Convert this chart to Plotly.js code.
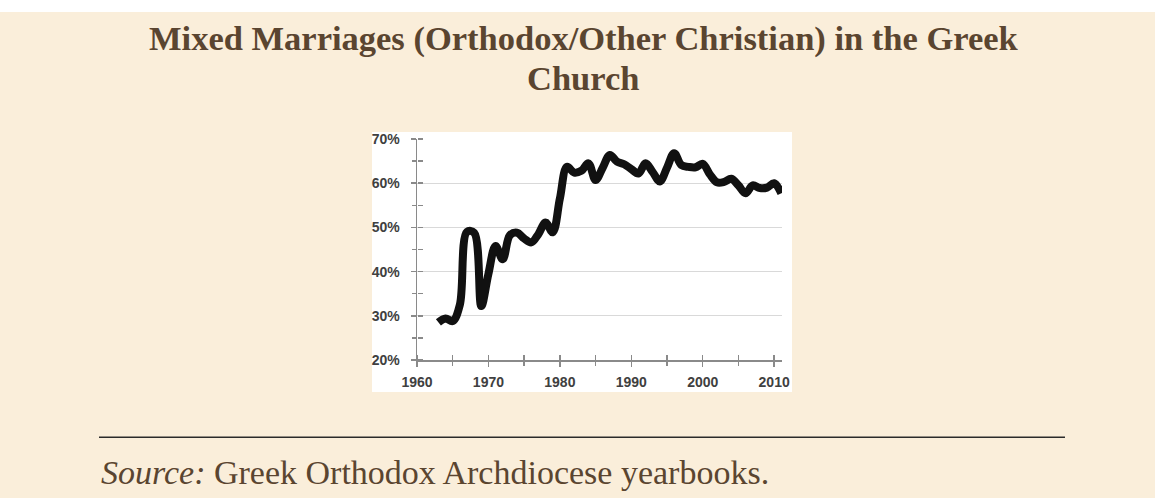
<!DOCTYPE html>
<html>
<head>
<meta charset="utf-8">
<script src="https://cdn.plot.ly/plotly-3.0.1.min.js"></script>
<style>
  html, body { margin: 0; padding: 0; background: #FAEEDA; }
  #chart { width: 1155px; height: 498px; }
</style>
</head>
<body>
<div id="chart"></div>
<script>
var years = [1963, 1964, 1965, 1966, 1967, 1968, 1969, 1970, 1971, 1972,
             1973, 1974, 1975, 1976, 1977, 1978, 1979, 1980, 1981, 1982,
             1983, 1984, 1985, 1986, 1987, 1988, 1989, 1990, 1991, 1992,
             1993, 1994, 1995, 1996, 1997, 1998, 1999, 2000, 2001, 2002,
             2003, 2004, 2005, 2006, 2007, 2008, 2009, 2010, 2011];
var mixedShare = [0.285, 0.294, 0.288, 0.325, 0.490, 0.488, 0.322, 0.395, 0.458, 0.428,
                  0.482, 0.488, 0.475, 0.466, 0.485, 0.511, 0.489, 0.565, 0.637, 0.624,
                  0.628, 0.645, 0.607, 0.635, 0.664, 0.649, 0.643, 0.632, 0.622, 0.645,
                  0.625, 0.604, 0.635, 0.668, 0.641, 0.637, 0.636, 0.644, 0.620, 0.602,
                  0.603, 0.610, 0.595, 0.577, 0.595, 0.589, 0.590, 0.600, 0.577];
var yTickVals = [0.2, 0.3, 0.4, 0.5, 0.6, 0.7];
var yTickText = ['20%', '30%', '40%', '50%', '60%', '70%'];
var yMinorTickVals = [0.25, 0.35, 0.45, 0.55, 0.65];
var yAllTickVals = [0.2, 0.25, 0.3, 0.35, 0.4, 0.45, 0.5, 0.55, 0.6, 0.65, 0.7];
var xTickVals = [1960, 1970, 1980, 1990, 2000, 2010];
var xTickText = ['1960', '1970', '1980', '1990', '2000', '2010'];
var xMinorTickVals = [1965, 1975, 1985, 1995, 2005];
var xAllTickVals = [1960, 1965, 1970, 1975, 1980, 1985, 1990, 1995, 2000, 2005, 2010];

var titleLine1 = 'Mixed Marriages (Orthodox/Other Christian) in the Greek';
var titleLine2 = 'Church';
var sourceText = '<i>Source:</i> Greek Orthodox Archdiocese yearbooks.';

var axisGray = '#8a8a8a';
var brown = '#5A4530';
var labelFont = {family: 'Liberation Sans, Arial, sans-serif', size: 14, color: '#404040', weight: 'bold'};

var hidden = {color: 'rgba(0,0,0,0)', width: 0};
var traces = [
  {x: years, y: mixedShare, type: 'scatter', mode: 'lines', xaxis: 'x2', yaxis: 'y2',
   line: hidden, hoverinfo: 'skip', showlegend: false},
  {x: years, y: mixedShare, type: 'scatter', mode: 'lines', xaxis: 'x3', yaxis: 'y3',
   line: hidden, hoverinfo: 'skip', showlegend: false},
  {x: years, y: mixedShare, type: 'scatter', mode: 'lines',
   line: {color: '#111111', width: 8, shape: 'spline', smoothing: 1},
   hoverinfo: 'skip', showlegend: false}
];

var xr = [1960, 2011.1];
var yr = [0.2, 0.7];

function tickAxis(extra) {
  var base = {showgrid: false, zeroline: false, showline: false, showticklabels: false,
              tickmode: 'array', ticks: 'outside', ticklen: 5, tickwidth: 1.5, tickcolor: axisGray};
  for (var k in extra) base[k] = extra[k];
  return base;
}

var layout = {
  width: 1155, height: 498,
  paper_bgcolor: '#FAEEDA',
  plot_bgcolor: '#FFFFFF',
  margin: {l: 417, r: 373, t: 139, b: 138, pad: 0},
  showlegend: false,
  xaxis: {
    range: xr, showgrid: false, zeroline: false,
    showline: true, linecolor: axisGray, linewidth: 1.5,
    tickmode: 'array', tickvals: xTickVals, ticktext: xTickText,
    ticks: 'outside', ticklen: 5, tickwidth: 1.5, tickcolor: axisGray,
    tickfont: labelFont, ticklabelstandoff: 4
  },
  yaxis: {
    range: yr, showgrid: true, gridcolor: '#d9d9d9', gridwidth: 1, zeroline: false,
    showline: true, linecolor: axisGray, linewidth: 1.5,
    tickmode: 'array', tickvals: yTickVals, ticktext: yTickText,
    ticks: 'outside', ticklen: 5, tickwidth: 1.5, tickcolor: axisGray,
    tickfont: labelFont, ticklabelstandoff: 8
  },
  xaxis2: tickAxis({overlaying: 'x', side: 'top', anchor: 'free', position: 0, range: xr, tickvals: xAllTickVals}),
  yaxis2: tickAxis({overlaying: 'y', side: 'right', anchor: 'free', position: 0, range: yr, tickvals: yAllTickVals}),
  xaxis3: tickAxis({overlaying: 'x', side: 'bottom', anchor: 'free', position: 0, range: xr, tickvals: xMinorTickVals}),
  yaxis3: tickAxis({overlaying: 'y', side: 'left', anchor: 'free', position: 0, range: yr, tickvals: yMinorTickVals}),
  shapes: [
    {type: 'rect', xref: 'paper', yref: 'paper', layer: 'below',
     x0: -0.1233, x1: 1.0274, y0: -0.1448, y1: 1.0317,
     fillcolor: '#FFFFFF', line: {width: 0}},
    {type: 'rect', xref: 'paper', yref: 'paper', layer: 'below',
     x0: -1.2, x1: 2.1, y0: 1.5747, y1: 1.7,
     fillcolor: '#FFFFFF', line: {width: 0}},
    {type: 'line', xref: 'paper', yref: 'paper',
     x0: -0.8712, x1: 1.7753, y0: -0.3501, y1: -0.3501,
     line: {color: '#2a2a2a', width: 1.5}}
  ],
  annotations: [
    {text: titleLine1, xref: 'paper', yref: 'paper', x: 0.4575, y: 1.455,
     xanchor: 'center', yanchor: 'middle', showarrow: false,
     font: {family: 'Liberation Serif, Times New Roman, serif', size: 34.5, color: brown, weight: 'bold'}},
    {text: titleLine2, xref: 'paper', yref: 'paper', x: 0.4548, y: 1.2745,
     xanchor: 'center', yanchor: 'middle', showarrow: false,
     font: {family: 'Liberation Serif, Times New Roman, serif', size: 34.5, color: brown, weight: 'bold'}},
    {text: sourceText, xref: 'paper', yref: 'paper', x: -0.8712, y: -0.5113,
     xanchor: 'left', yanchor: 'middle', showarrow: false,
     font: {family: 'Liberation Serif, Times New Roman, serif', size: 34, color: brown}}
  ]
};

Plotly.newPlot('chart', traces, layout, {displayModeBar: false, staticPlot: true});
</script>
</body>
</html>
